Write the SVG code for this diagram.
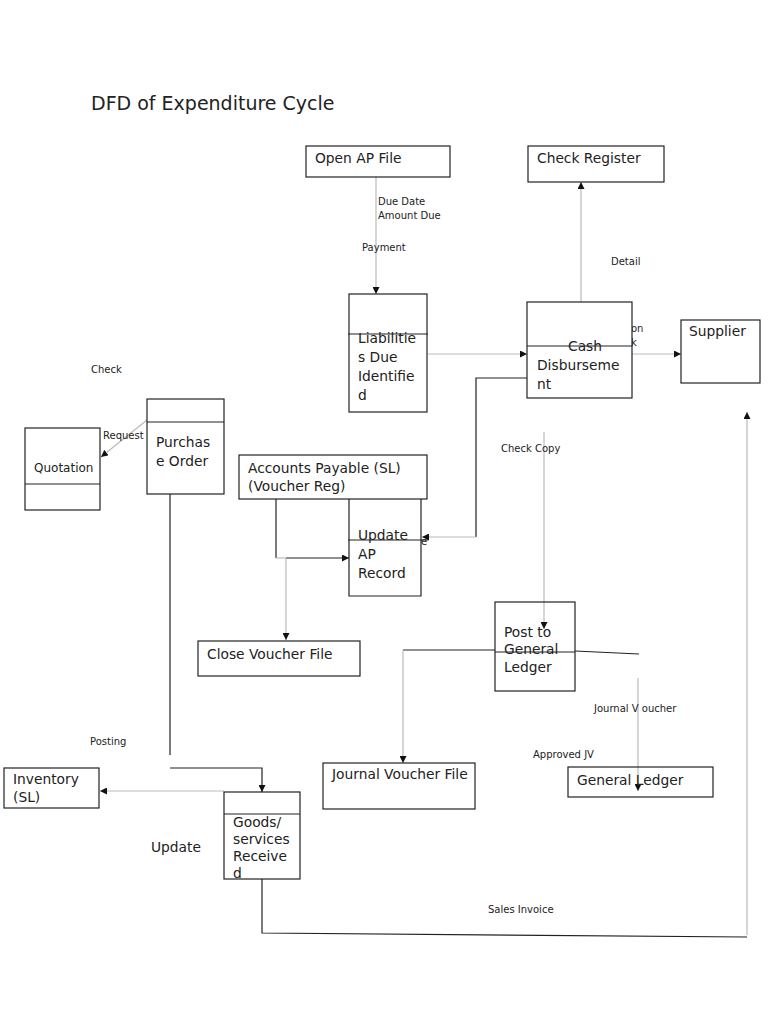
<svg xmlns="http://www.w3.org/2000/svg" width="768" height="1024" viewBox="0 0 768 1024">
<style>
text{font-family:"DejaVu Sans","Liberation Sans",sans-serif;fill:#222}
.t{font-size:13.8px}
.s{font-size:10px}
.box{fill:#fff;stroke:#222;stroke-width:1.2}
.div{stroke:#222;stroke-width:1.2}
.k{fill:none;stroke:#222;stroke-width:1.2}
.g{fill:none;stroke:#bbb;stroke-width:1.2}
</style>
<defs>
<marker id="ah" viewBox="0 0 10 10" refX="10" refY="5" markerWidth="7" markerHeight="7" orient="auto" markerUnits="userSpaceOnUse"><path d="M0,0 L10,5 L0,10 z" fill="#111"/></marker>
<clipPath id="cg"><rect x="224" y="792" width="76" height="87"/></clipPath>
</defs>
<rect width="768" height="1024" fill="#fff"/>
<text x="91" y="110" style="font-size:19px">DFD of Expenditure Cycle</text>

<g id="connectors">
<path class="g" d="M376,177 V294" marker-end="url(#ah)"/>
<path class="g" d="M428,354 H527" marker-end="url(#ah)"/>
<path class="g" d="M581,302 V182" marker-end="url(#ah)"/>
<path class="g" d="M632,354 H681" marker-end="url(#ah)"/>
<path class="k" d="M527,378 H476 V537"/>
<path class="g" d="M476,537 H422" marker-end="url(#ah)"/>
<path class="g" d="M147,420 L101,457" marker-end="url(#ah)"/>
<path class="k" d="M276,499 V558"/>
<path class="g" d="M276,558 H286"/>
<path class="k" d="M286,558 H349" marker-end="url(#ah)"/>
<path class="g" d="M286,558 V640" marker-end="url(#ah)"/>
<path class="g" d="M544,432 V629" marker-end="url(#ah)"/>
<path class="k" d="M495,650 H403"/>
<path class="g" d="M403,650 V763" marker-end="url(#ah)"/>
<path class="k" d="M575,651 L639,654"/>
<path class="g" d="M638,678 V791" marker-end="url(#ah)"/>
<path class="k" d="M170,490 V755"/>
<path class="k" d="M170,768 H262 V792" marker-end="url(#ah)"/>
<path class="g" d="M224,791 H100" marker-end="url(#ah)"/>
<path class="k" d="M262,879 V933 L747,937"/>
<path class="g" d="M747,935 V412" marker-end="url(#ah)"/>
</g>

<g id="labels">
<text class="s" x="378" y="205">Due Date</text>
<text class="s" x="378" y="219">Amount Due</text>
<text class="s" x="362" y="251">Payment</text>
<text class="s" x="611" y="265">Detail</text>
<text class="s" x="631" y="332">on</text>
<text class="s" x="631" y="346">k</text>
<text class="s" x="91" y="373">Check</text>
<text class="s" x="103" y="439">Request</text>
<text class="s" x="501" y="452">Check Copy</text>
<text class="s" x="421" y="545">e</text>
<text class="s" x="594" y="712">Journal V oucher</text>
<text class="s" x="533" y="758">Approved JV</text>
<text class="s" x="90" y="745">Posting</text>
<text class="t" x="151" y="852">Update</text>
<text class="s" x="488" y="913">Sales Invoice</text>
</g>

<g id="open-ap-file">
<rect class="box" x="306" y="146" width="144" height="31"/>
<text class="t" x="315" y="163">Open AP File</text>
</g>
<g id="check-register">
<rect class="box" x="528" y="146" width="136" height="36"/>
<text class="t" x="537" y="163">Check Register</text>
</g>
<g id="liabilities-due">
<rect class="box" x="349" y="294" width="78" height="118"/>
<text class="t" x="358" y="343">Liabilitie</text>
<text class="t" x="358" y="362">s Due</text>
<text class="t" x="358" y="381">Identifie</text>
<text class="t" x="358" y="400">d</text>
<line class="div" x1="348" y1="334" x2="428" y2="334"/>
</g>
<g id="cash-disbursement">
<rect class="box" x="527" y="302" width="105" height="96"/>
<text class="t" x="568" y="351">Cash</text>
<text class="t" x="537" y="370">Disburseme</text>
<text class="t" x="537" y="389">nt</text>
<line class="div" x1="527" y1="346" x2="632" y2="346"/>
</g>
<g id="supplier">
<rect class="box" x="681" y="320" width="79" height="63"/>
<text class="t" x="689" y="336">Supplier</text>
</g>
<g id="quotation">
<rect class="box" x="25" y="428" width="75" height="82"/>
<line class="div" x1="25" y1="484" x2="100" y2="484"/>
<text x="34" y="472" style="font-size:12px">Quotation</text>
</g>
<g id="purchase-order">
<rect class="box" x="147" y="399" width="77" height="95"/>
<line class="div" x1="147" y1="422" x2="224" y2="422"/>
<text class="t" x="156" y="447">Purchas</text>
<text class="t" x="156" y="466">e Order</text>
</g>
<g id="accounts-payable">
<rect class="box" x="239" y="455" width="188" height="44"/>
<text class="t" x="248" y="473">Accounts Payable (SL)</text>
<text class="t" x="248" y="491">(Voucher Reg)</text>
</g>
<g id="update-ap-record">
<path class="k" d="M349,499 V596 H421 V499"/>
<text class="t" x="358" y="540">Update</text>
<text class="t" x="358" y="559">AP</text>
<text class="t" x="358" y="578">Record</text>
<line class="div" x1="348" y1="540" x2="428" y2="540"/>
</g>
<g id="close-voucher-file">
<rect class="box" x="198" y="641" width="162" height="35"/>
<text class="t" x="207" y="659">Close Voucher File</text>
</g>
<g id="post-to-gl">
<rect class="box" x="495" y="602" width="80" height="89" fill-opacity="0"/>
<text class="t" x="504" y="637">Post to</text>
<text class="t" x="504" y="654">General</text>
<text class="t" x="504" y="672">Ledger</text>
<line class="div" x1="495" y1="652" x2="575" y2="652"/>
</g>
<g id="journal-voucher-file">
<rect class="box" x="323" y="763" width="152" height="46"/>
<text class="t" x="332" y="779">Journal Voucher File</text>
</g>
<g id="general-ledger">
<rect class="box" x="568" y="767" width="145" height="30" fill-opacity="0"/>
<text class="t" x="577" y="785">General Ledger</text>
</g>
<g id="inventory">
<rect class="box" x="4" y="768" width="95" height="40"/>
<text class="t" x="13" y="784">Inventory</text>
<text class="t" x="13" y="802">(SL)</text>
</g>
<g id="goods-received">
<rect class="box" x="224" y="792" width="76" height="87"/>
<line class="div" x1="224" y1="814" x2="300" y2="814"/>
<g clip-path="url(#cg)">
<text class="t" x="233" y="827">Goods/</text>
<text class="t" x="233" y="844">services</text>
<text class="t" x="233" y="861">Receive</text>
<text class="t" x="233" y="878">d</text>
</g>
</g>
</svg>
